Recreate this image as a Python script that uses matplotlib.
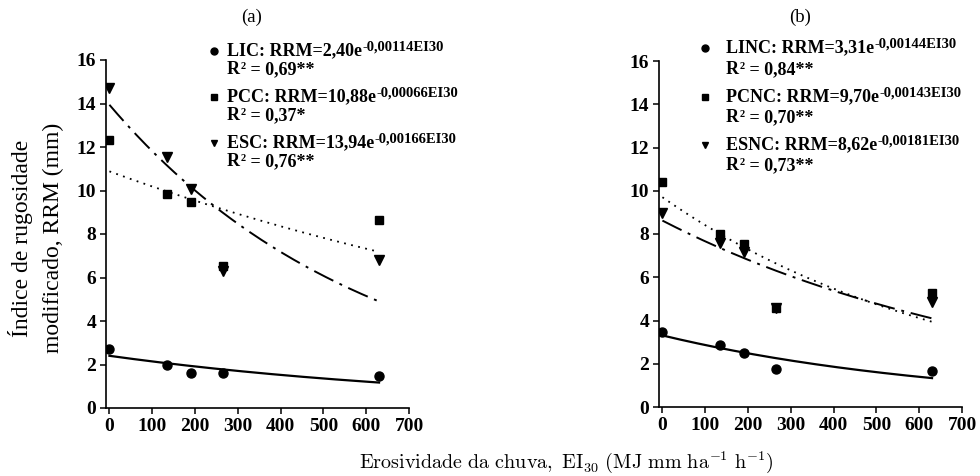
import numpy as np
import matplotlib
matplotlib.use("Agg")
import matplotlib.pyplot as plt
from matplotlib.text import Annotation

plt.rcParams['font.family'] = ['Liberation Serif', 'DejaVu Serif']
plt.rcParams['mathtext.fontset'] = 'cm'

# data
ei30 = [0, 135, 190, 265, 630]

lic = [2.7, 2.0, 1.6, 1.6, 1.45]
pcc = [12.3, 9.85, 9.45, 6.55, 8.65]
esc = [14.7, 11.55, 10.05, 6.3, 6.8]

linc = [3.45, 2.85, 2.5, 1.75, 1.65]
pcnc = [10.4, 8.0, 7.55, 4.6, 5.25]
esnc = [8.95, 7.6, 7.15, 4.6, 4.85]

names_a = ["LIC", "PCC", "ESC"]
names_b = ["LINC", "PCNC", "ESNC"]
eq_a = ["2,40e", "10,88e", "13,94e"]
eq_b = ["3,31e", "9,70e", "8,62e"]
exp_a = ["-0,00114EI30", "-0,00066EI30", "-0,00166EI30"]
exp_b = ["-0,00144EI30", "-0,00143EI30", "-0,00181EI30"]
r2_a = ["0,69**", "0,37*", "0,76**"]
r2_b = ["0,84**", "0,70**", "0,73**"]

# trend curves as drawn (a * exp(-b * EI30))
curve_a = [2.40, 10.88, 13.94]
curve_b = [0.00114, 0.00066, 0.00166]
curve_a2 = [3.31, 9.70, 8.62]
curve_b2 = [0.00144, 0.00143, 0.00118]

markers = ["o", "s", "v"]
msizes = [6.5, 5.5, 6.5]
lstyles = ["-", (0, (1, 3)), (0, (11, 3.5, 1.5, 3.5))]
lwidths = [1.6, 1.3, 1.4]

fig = plt.figure(figsize=(9.8, 4.76), dpi=100)
W, H = 980.0, 476.0


def fx(px):
    return px / W


def fy(py):
    return 1 - py / H


def style_axis(ax):
    ax.set_xlim(-8, 700)
    ax.set_ylim(0, 16)
    ax.set_xticks(range(0, 701, 100))
    ax.set_yticks(range(0, 17, 2))
    for s in ["top", "right"]:
        ax.spines[s].set_visible(False)
    for s in ["left", "bottom"]:
        ax.spines[s].set_linewidth(1.2)
    ax.tick_params(direction="out", length=4, width=1.1, labelsize=14, pad=3)
    for lab in ax.get_xticklabels() + ax.get_yticklabels():
        lab.set_fontweight("bold")


def attach(text, ref, xy, off, size, va):
    ann = Annotation(text, xy=xy, xycoords=ref, xytext=off,
                     textcoords="offset points", fontsize=size,
                     fontweight="bold", va=va, ha="left")
    fig.add_artist(ann)
    return ann


def legend_block(mx, tx, rows, names, eqs, exps, r2s):
    for i in range(3):
        y_eq, y_r2 = rows[i]
        fig.add_artist(plt.Line2D([fx(mx)], [fy(y_eq)], marker=markers[i],
                                  markersize=msizes[i] - 1.5, color="black",
                                  linestyle="none", transform=fig.transFigure))
        base = fig.text(fx(tx), fy(y_eq), names[i] + ": RRM=" + eqs[i],
                        fontsize=13, fontweight="bold", va="center")
        attach(exps[i], base, (1, 1), (0.5, 1.5), 10.5, "top")
        rr = fig.text(fx(tx), fy(y_r2), "R", fontsize=13, fontweight="bold",
                      va="center")
        attach("2", rr, (1, 1), (0.8, -0.5), 7.5, "top")
        attach(" = " + r2s[i], rr, (1, 0), (4.5, 0), 13, "bottom")


xs = np.linspace(0, 630, 200)

axL = fig.add_axes([fx(106), fy(408), 303 / W, 348 / H])
for i, ys in enumerate([lic, pcc, esc]):
    axL.plot(ei30, ys, linestyle="none", marker=markers[i],
             markersize=msizes[i], color="black", zorder=3)
    axL.plot(xs, curve_a[i] * np.exp(-curve_b[i] * xs), color="black",
             linestyle=lstyles[i], linewidth=lwidths[i])
style_axis(axL)

axR = fig.add_axes([fx(659), fy(407), 303 / W, 346 / H])
for i, ys in enumerate([linc, pcnc, esnc]):
    axR.plot(ei30, ys, linestyle="none", marker=markers[i],
             markersize=msizes[i], color="black", zorder=3)
    axR.plot(xs, curve_a2[i] * np.exp(-curve_b2[i] * xs), color="black",
             linestyle=lstyles[i], linewidth=lwidths[i])
style_axis(axR)

legend_block(214, 227, [(51, 70), (97, 116), (143, 162)],
             names_a, eq_a, exp_a, r2_a)
legend_block(705, 726, [(48, 70), (97, 118), (145, 166)],
             names_b, eq_b, exp_b, r2_b)

fig.text(fx(252), fy(17), "(a)", fontsize=13.5, ha="center", va="center")
fig.text(fx(800), fy(17), "(b)", fontsize=13.5, ha="center", va="center")

fig.text(fx(36), fy(238), "Índice de rugosidade\nmodificado, RRM (mm)",
         rotation=90, ha="center", va="center", multialignment="center",
         fontsize=17, linespacing=1.65)

fig.text(fx(566), fy(462),
         r"$\mathrm{Erosividade\ da\ chuva,\ EI_{30}\ (MJ\ mm\ ha^{-1}\ h^{-1})}$",
         fontsize=14.5, ha="center", va="center")

fig.savefig("out.png", dpi=100)
